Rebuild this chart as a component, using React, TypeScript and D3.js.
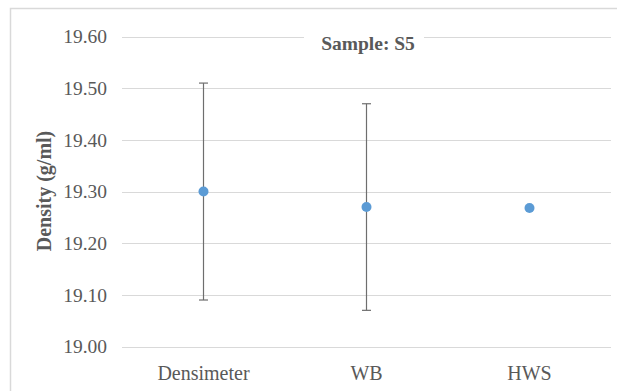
import React from "react";
import * as d3 from "d3";

const categories = ["Densimeter", "WB", "HWS"];
const means = [19.3, 19.27, 19.268];
const errors = [0.21, 0.2, 0];
const yTicks = [19.0, 19.1, 19.2, 19.3, 19.4, 19.5, 19.6];
const title = "Sample: S5";
const yTitle = "Density (g/ml)";

export default function App() {
  const W = 617, H = 391;
  const left = 122, right = 611, top = 36.6, bottom = 346.5;
  const x = d3.scaleBand<string>().domain(categories).range([left, right]);
  const y = d3.scaleLinear().domain([19.0, 19.6]).range([bottom, top]);
  const font = "Liberation Serif";
  const grey = "#595959";
  return (
    <svg width={W} height={H} style={{ position: "absolute", left: 0, top: 0, fontFamily: font }}>
      <rect x={0} y={0} width={W} height={H} fill="#fff" />
      <path d={`M10.5,${H} V8.5 H${W}`} fill="none" stroke="#d9d9d9" strokeWidth={1.5} />
      {yTicks.map((t) => (
        <g key={t}>
          <line x1={left} x2={right} y1={Math.round(y(t)) + 0.5} y2={Math.round(y(t)) + 0.5} stroke="#d9d9d9" strokeWidth={1} />
          <text x={107} y={y(t)} dy="0.35em" textAnchor="end" style={{ fontFamily: font }} fontSize={19.5} fill={grey}>
            {t.toFixed(2)}
          </text>
        </g>
      ))}
      <rect x={304} y={28} width={120} height={22} fill="#fff" />
      <text x={368} y={50} textAnchor="middle" style={{ fontFamily: font }} fontWeight="bold" fontSize={19.5} fill={grey}>
        {title}
      </text>
      <text transform="translate(51,191) rotate(-90)" textAnchor="middle" style={{ fontFamily: font }} fontWeight="bold" fontSize={20} fill={grey}>
        {yTitle}
      </text>
      {categories.map((c) => (
        <text key={c} x={(x(c) as number) + x.bandwidth() / 2} y={380} textAnchor="middle" style={{ fontFamily: font }} fontSize={20} fill={grey}>
          {c}
        </text>
      ))}
      {categories.map((c, i) => {
        const cx = (x(c) as number) + x.bandwidth() / 2;
        const e = errors[i];
        return (
          <g key={c}>
            {e > 0 && (
              <g stroke="#6e6e6e" strokeWidth={1.2}>
                <line x1={cx} x2={cx} y1={y(means[i] + e)} y2={y(means[i] - e)} />
                <line x1={cx - 4.5} x2={cx + 4.5} y1={y(means[i] + e)} y2={y(means[i] + e)} />
                <line x1={cx - 4.5} x2={cx + 4.5} y1={y(means[i] - e)} y2={y(means[i] - e)} />
              </g>
            )}
            <circle cx={cx} cy={y(means[i])} r={5} fill="#5B9BD5" />
          </g>
        );
      })}
    </svg>
  );
}
